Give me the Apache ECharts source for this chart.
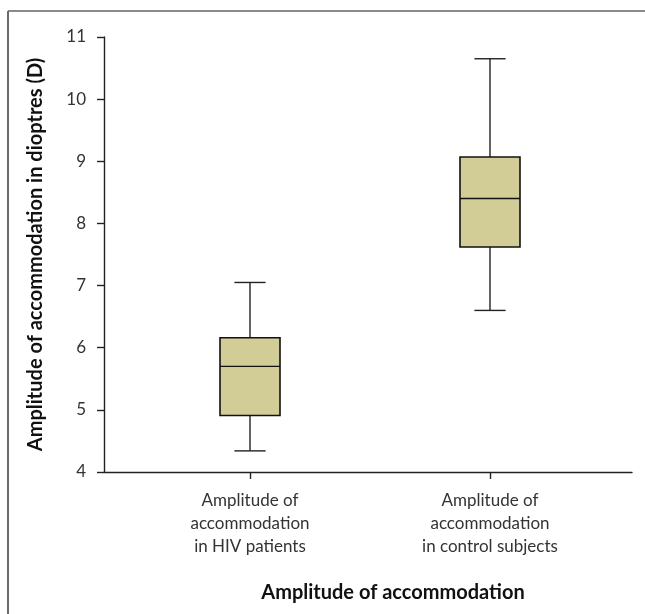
<!DOCTYPE html>
<html>
<head>
<meta charset="utf-8">
<script src="https://cdn.jsdelivr.net/npm/echarts@6/dist/echarts.min.js"></script>
<style>
  html, body { margin: 0; padding: 0; background: #fff; }
  #chart { width: 645px; height: 614px; }
</style>
</head>
<body>
<div id="chart"></div>
<script>
// Groups on the horizontal axis
var categories = [
  'Amplitude of\naccommodation\nin HIV patients',
  'Amplitude of\naccommodation\nin control subjects'
];
// Five-number summaries (dioptres) per group
var whiskerLow = [4.34, 6.60];
var quartile1 = [4.91, 7.62];
var medians = [5.70, 8.40];
var quartile3 = [6.16, 9.07];
var whiskerHigh = [7.05, 10.65];
// Value axis ticks
var yTicks = [4, 5, 6, 7, 8, 9, 10, 11];

var FONT = 'Lato';
var INK = '#222';
var BOX_FILL = '#d2cd96';

var boxData = categories.map(function (c, i) {
  return [i, whiskerLow[i], quartile1[i], medians[i], quartile3[i], whiskerHigh[i]];
});

function renderBox(params, api) {
  var i = api.value(0);
  var lo = api.coord([i, api.value(1)]);
  var q1 = api.coord([i, api.value(2)]);
  var md = api.coord([i, api.value(3)]);
  var q3 = api.coord([i, api.value(4)]);
  var hi = api.coord([i, api.value(5)]);
  var band = api.size([1, 0])[0];
  var halfBox = band * 0.125;
  var halfCap = band * 0.065;
  var x = lo[0];
  var lineStyle = { stroke: INK, lineWidth: 1.4 };
  return {
    type: 'group',
    children: [
      { type: 'line', shape: { x1: x, y1: q3[1], x2: x, y2: hi[1] }, style: lineStyle },
      { type: 'line', shape: { x1: x, y1: q1[1], x2: x, y2: lo[1] }, style: lineStyle },
      { type: 'line', shape: { x1: x - halfCap, y1: hi[1], x2: x + halfCap, y2: hi[1] }, style: lineStyle },
      { type: 'line', shape: { x1: x - halfCap, y1: lo[1], x2: x + halfCap, y2: lo[1] }, style: lineStyle },
      { type: 'rect', shape: { x: x - halfBox, y: q3[1], width: halfBox * 2, height: q1[1] - q3[1] },
        style: { fill: BOX_FILL, stroke: '#111', lineWidth: 1.6 } },
      { type: 'line', shape: { x1: x - halfBox, y1: md[1], x2: x + halfBox, y2: md[1] }, style: { stroke: '#111', lineWidth: 1.4 } }
    ]
  };
}

var chart = echarts.init(document.getElementById('chart'), null, { renderer: 'canvas' });

chart.setOption({
  animation: false,
  backgroundColor: '#fff',
  textStyle: { fontFamily: FONT },
  grid: [
    { left: 104, right: 13, top: 37, bottom: 142 },
    { left: 130, right: 35, top: 37, bottom: 142 }
  ],
  xAxis: [
    {
      type: 'value', gridIndex: 0, min: 0, max: 1,
      axisLine: { show: true, lineStyle: { color: INK, width: 1.4 } },
      axisTick: { show: false }, axisLabel: { show: false }, splitLine: { show: false }
    },
    {
      type: 'category', gridIndex: 1, data: categories,
      axisLine: { show: false },
      axisTick: { show: true, alignWithLabel: true, length: 7, lineStyle: { color: INK, width: 1.4 } },
      axisLabel: { color: '#333', fontSize: 17, lineHeight: 23, margin: 17, fontFamily: FONT },
      splitLine: { show: false }
    }
  ],
  yAxis: [
    {
      type: 'value', gridIndex: 0, min: yTicks[0], max: yTicks[yTicks.length - 1], interval: 1,
      name: 'Amplitude of accommodation in dioptres (D)',
      nameLocation: 'middle', nameGap: 58, nameRotate: 90,
      nameTextStyle: { color: '#111', fontSize: 20, fontWeight: 'bold', fontFamily: FONT },
      axisLine: { show: true, lineStyle: { color: INK, width: 1.4 } },
      axisTick: { show: true, length: 7, lineStyle: { color: INK, width: 1.4 } },
      axisLabel: { color: '#333', fontSize: 17, margin: 18, fontFamily: FONT },
      splitLine: { show: false }
    },
    {
      type: 'value', gridIndex: 1, min: yTicks[0], max: yTicks[yTicks.length - 1], interval: 1,
      show: false
    }
  ],
  graphic: [
    { type: 'line', shape: { x1: 8, y1: 11, x2: 645, y2: 11 }, style: { stroke: '#8a8a8a', lineWidth: 2 } },
    { type: 'line', shape: { x1: 8, y1: 11, x2: 8, y2: 614 }, style: { stroke: '#6a6a6a', lineWidth: 2 } },
    {
      type: 'text', x: 393, y: 593,
      style: { text: 'Amplitude of accommodation', fill: '#111', font: 'bold 20px ' + FONT,
               align: 'center', verticalAlign: 'middle' }
    }
  ],
  series: [
    {
      type: 'custom', xAxisIndex: 1, yAxisIndex: 1,
      renderItem: renderBox,
      encode: { x: 0, y: [1, 2, 3, 4, 5] },
      data: boxData
    }
  ]
});
</script>
</body>
</html>
